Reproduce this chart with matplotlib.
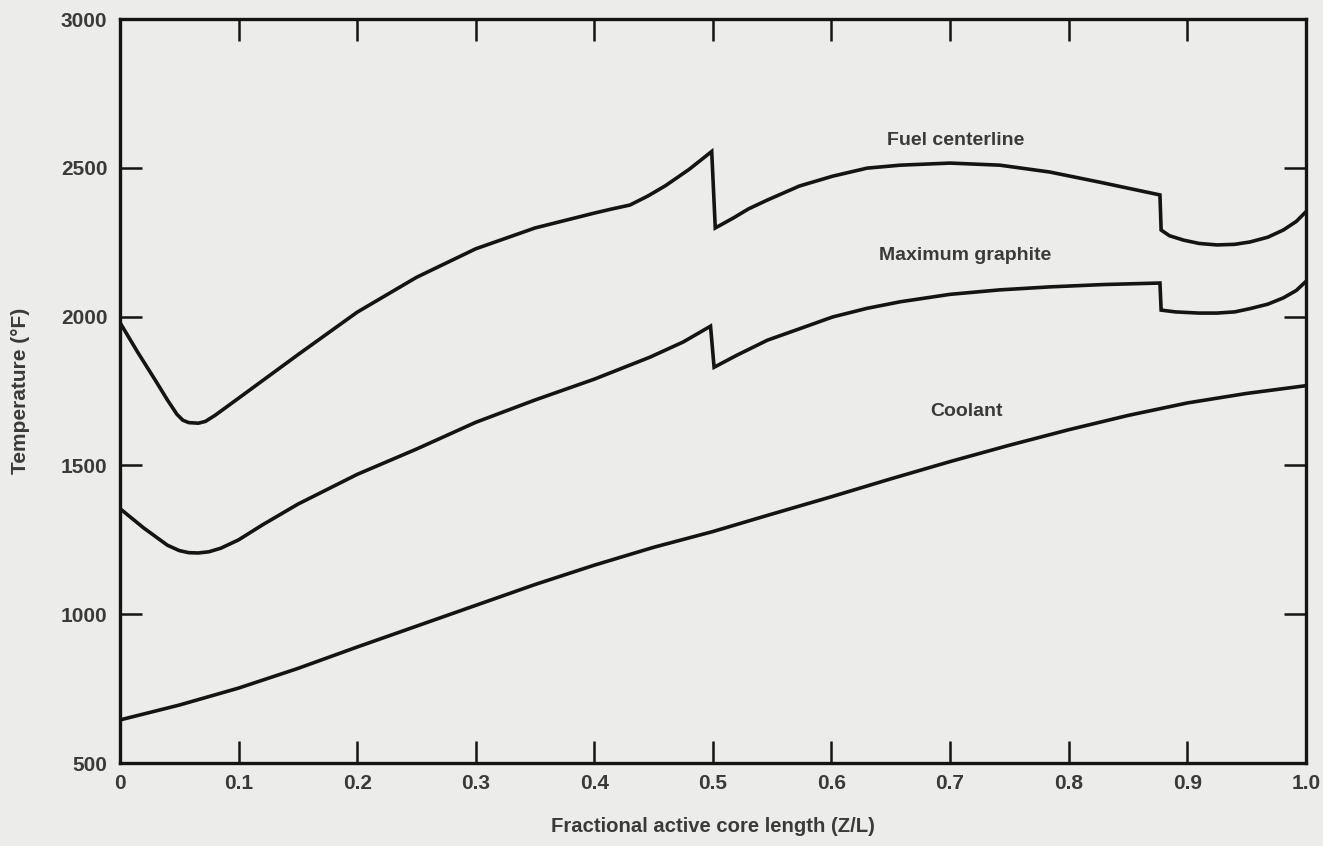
# Temperature profiles along the active core length
import matplotlib.pyplot as plt

# fraction of active core length vs temperature (deg F)
fuel_x = [0.000, 0.015, 0.030, 0.040, 0.048, 0.053, 0.058, 0.066, 0.072, 0.080,
          0.090, 0.100, 0.150, 0.200, 0.250, 0.300, 0.350, 0.400, 0.415, 0.430,
          0.445, 0.460, 0.480, 0.499, 0.502, 0.517, 0.530, 0.546, 0.573, 0.601,
          0.630, 0.658, 0.700, 0.742, 0.784, 0.826, 0.877, 0.878, 0.885, 0.897,
          0.910, 0.925, 0.940, 0.953, 0.968, 0.981, 0.992, 1.000]
fuel_t = [1980, 1880, 1785, 1720, 1672, 1652, 1644, 1642, 1648, 1668,
          1697, 1726, 1872, 2015, 2132, 2228, 2298, 2348, 2362, 2375,
          2405, 2440, 2495, 2555, 2298, 2331, 2362, 2392, 2439, 2472,
          2499, 2509, 2516, 2509, 2486, 2452, 2409, 2291, 2272, 2257,
          2246, 2241, 2243, 2251, 2267, 2291, 2320, 2352]

graphite_x = [0.000, 0.020, 0.040, 0.050, 0.058, 0.066, 0.075, 0.085, 0.100, 0.120,
              0.150, 0.200, 0.250, 0.300, 0.350, 0.400, 0.447, 0.475, 0.498, 0.501,
              0.520, 0.546, 0.575, 0.601, 0.630, 0.658, 0.700, 0.742, 0.784, 0.830,
              0.877, 0.878, 0.890, 0.910, 0.925, 0.940, 0.953, 0.968, 0.981, 0.992,
              1.000]
graphite_t = [1355, 1290, 1232, 1214, 1207, 1206, 1210, 1222, 1250, 1300,
              1370, 1470, 1555, 1645, 1720, 1790, 1864, 1915, 1968, 1830,
              1870, 1921, 1962, 1999, 2028, 2050, 2075, 2090, 2100, 2108,
              2113, 2022, 2016, 2012, 2012, 2016, 2027, 2042, 2063, 2088,
              2118]

coolant_x = [0.00, 0.05, 0.10, 0.15, 0.20, 0.25, 0.30, 0.35, 0.40, 0.45,
             0.50, 0.55, 0.60, 0.65, 0.70, 0.75, 0.80, 0.85, 0.90, 0.95, 1.00]
coolant_t = [645, 695, 752, 818, 890, 960, 1030, 1100, 1165, 1225,
             1278, 1337, 1395, 1455, 1513, 1568, 1620, 1668, 1710, 1742, 1768]

x_ticks = [0, 0.1, 0.2, 0.3, 0.4, 0.5, 0.6, 0.7, 0.8, 0.9, 1.0]
x_labels = ['0', '0.1', '0.2', '0.3', '0.4', '0.5', '0.6', '0.7', '0.8', '0.9', '1.0']
y_ticks = [500, 1000, 1500, 2000, 2500, 3000]

paper = '#ececea'
ink = '#141414'
txt = '#3a3a3a'
font = ['Liberation Sans', 'DejaVu Sans']

fig = plt.figure(figsize=(13.23, 8.46), dpi=100, facecolor=paper)
ax = fig.add_axes([0.0907, 0.098, 0.8963, 0.8795], facecolor=paper)

ax.plot(fuel_x, fuel_t, color=ink, lw=2.6, solid_joinstyle='miter')
ax.plot(graphite_x, graphite_t, color=ink, lw=2.6, solid_joinstyle='miter')
ax.plot(coolant_x, coolant_t, color=ink, lw=2.6)

ax.set_xlim(0, 1.0)
ax.set_ylim(500, 3000)
ax.set_xticks(x_ticks)
ax.set_xticklabels(x_labels)
ax.set_yticks(y_ticks)

for s in ax.spines.values():
    s.set_linewidth(2.4)
    s.set_color(ink)

ax.tick_params(direction='in', length=16, width=1.8, color=ink,
               top=True, right=True, labelsize=15, labelcolor=txt)
ax.tick_params(axis='x', pad=8)
ax.tick_params(axis='y', pad=9)
for lab in ax.get_xticklabels() + ax.get_yticklabels():
    lab.set_family(font)
    lab.set_fontweight('bold')

ax.set_xlabel('Fractional active core length (Z/L)', family=font, fontsize=14.6,
              fontweight='bold', color=txt, labelpad=17)
ax.set_ylabel('Temperature (°F)', family=font, fontsize=15,
              fontweight='bold', color=txt, labelpad=22)

ax.text(0.705, 2593, 'Fuel centerline', family=font, fontsize=14, fontweight='bold',
        color=txt, ha='center', va='center')
ax.text(0.713, 2207, 'Maximum graphite', family=font, fontsize=14, fontweight='bold',
        color=txt, ha='center', va='center')
ax.text(0.714, 1680, 'Coolant', family=font, fontsize=14, fontweight='bold',
        color=txt, ha='center', va='center')

fig.savefig('out.png', dpi=100, facecolor=paper)
